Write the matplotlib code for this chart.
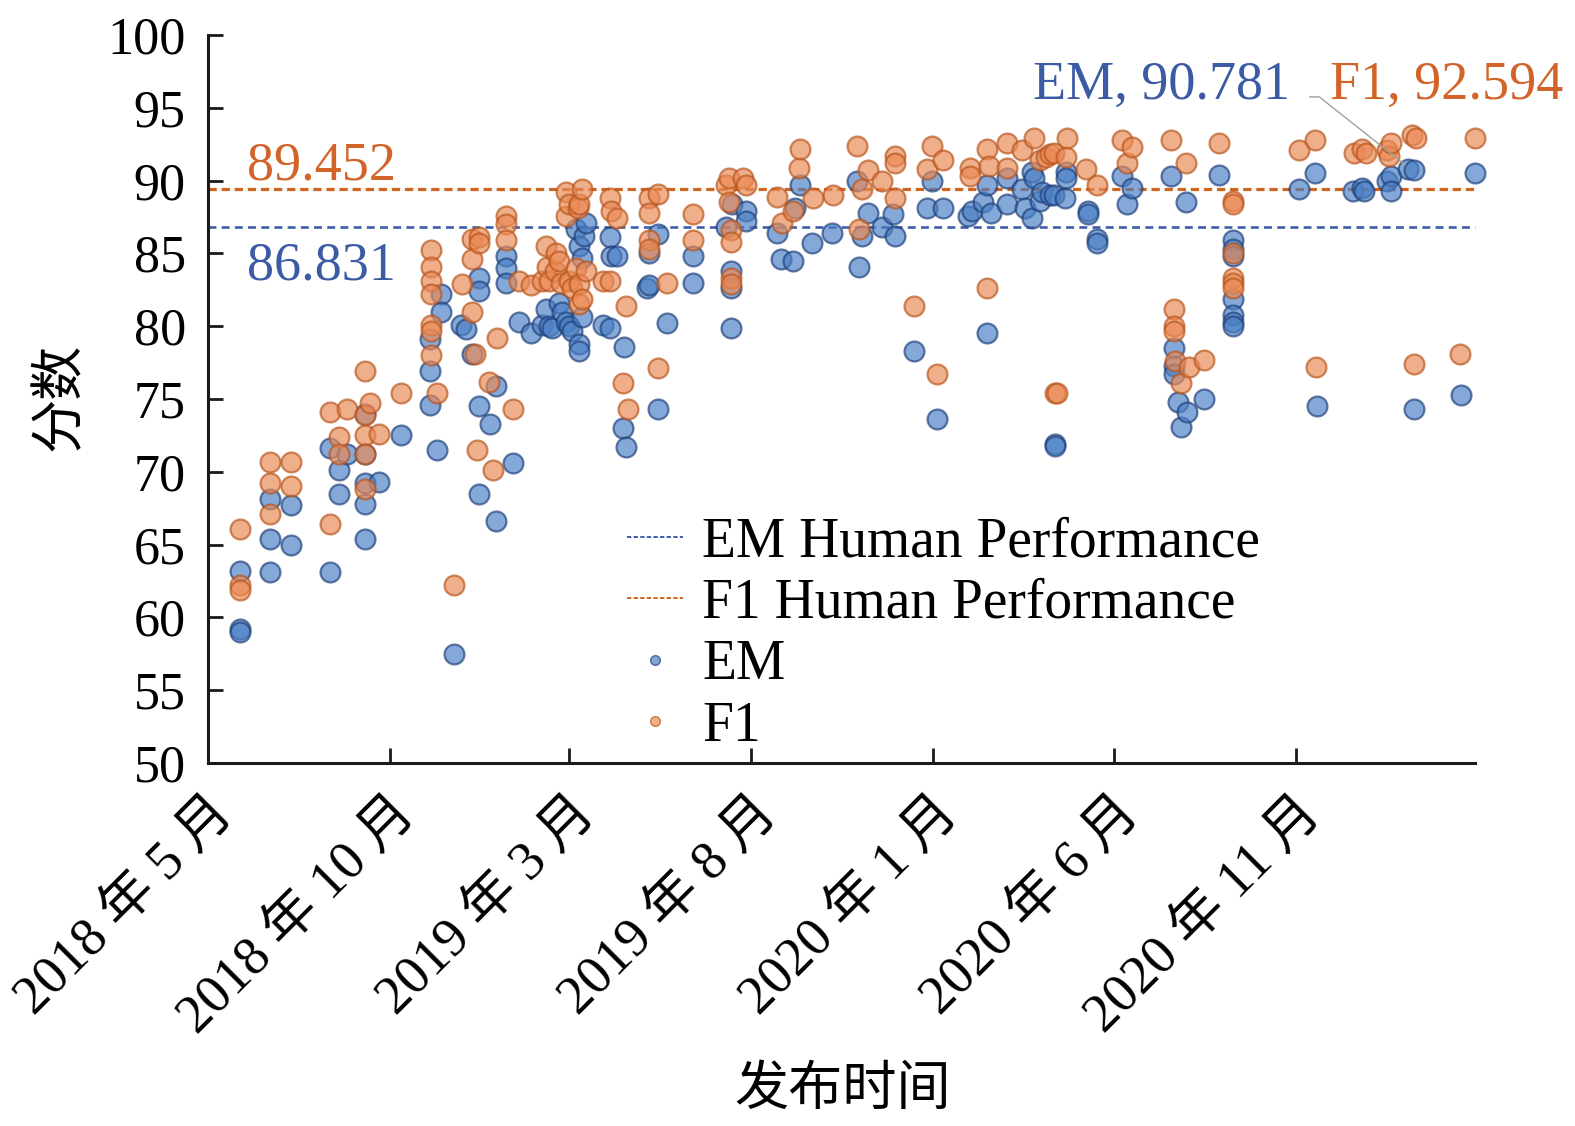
import matplotlib
matplotlib.use("Agg")
import matplotlib.pyplot as plt
from matplotlib.lines import Line2D
import pandas as pd

plt.rcParams['font.family'] = ['Liberation Serif', 'Noto Sans CJK SC']

# (release date, score)
em_points = [
    ("2018-05-28", 63.2), ("2018-05-28", 59.2), ("2018-05-28", 59.0),
    ("2018-06-22", 68.1), ("2018-06-22", 65.4), ("2018-06-22", 63.1),
    ("2018-07-10", 67.7), ("2018-07-10", 65.0),
    ("2018-08-12", 71.6), ("2018-08-12", 63.1),
    ("2018-08-19", 70.1), ("2018-08-19", 68.5), ("2018-08-26", 71.2),
    ("2018-09-10", 74.0), ("2018-09-10", 71.2), ("2018-09-10", 69.2), ("2018-09-10", 67.8), ("2018-09-10", 65.4),
    ("2018-09-22", 69.3), ("2018-10-10", 72.5),
    ("2018-11-04", 79.1), ("2018-11-04", 76.9), ("2018-11-04", 74.6),
    ("2018-11-10", 71.5), ("2018-11-13", 82.2), ("2018-11-13", 81.0), ("2018-11-24", 57.5),
    ("2018-11-30", 80.1), ("2018-12-04", 79.8), ("2018-12-09", 78.1),
    ("2018-12-15", 83.3), ("2018-12-15", 82.4), ("2018-12-15", 74.5), ("2018-12-15", 68.5),
    ("2018-12-24", 73.3), ("2018-12-29", 75.9), ("2018-12-29", 66.6),
    ("2019-01-07", 84.8), ("2019-01-07", 84.0), ("2019-01-07", 83.0),
    ("2019-01-13", 70.6), ("2019-01-18", 80.3), ("2019-01-28", 79.5),
    ("2019-02-06", 80.1), ("2019-02-09", 81.2), ("2019-02-12", 80.0), ("2019-02-14", 79.9),
    ("2019-02-20", 81.6), ("2019-02-23", 81.0), ("2019-02-26", 80.3), ("2019-03-01", 80.0), ("2019-03-03", 79.7),
    ("2019-03-07", 86.7), ("2019-03-09", 85.5), ("2019-03-09", 78.8), ("2019-03-09", 78.3),
    ("2019-03-12", 84.7), ("2019-03-12", 80.6), ("2019-03-13", 86.2), ("2019-03-15", 87.1),
    ("2019-03-29", 80.1), ("2019-04-04", 86.1), ("2019-04-04", 79.9), ("2019-04-05", 84.8), ("2019-04-10", 84.8),
    ("2019-04-15", 73.0), ("2019-04-16", 78.6), ("2019-04-18", 71.7),
    ("2019-05-05", 82.6), ("2019-05-07", 85.0), ("2019-05-07", 82.8),
    ("2019-05-15", 86.3), ("2019-05-15", 74.3), ("2019-05-22", 80.2),
    ("2019-06-13", 84.8), ("2019-06-13", 83.0),
    ("2019-07-11", 86.8), ("2019-07-15", 83.8), ("2019-07-15", 82.6), ("2019-07-15", 79.9), ("2019-07-16", 88.4),
    ("2019-07-28", 87.9), ("2019-07-28", 87.2),
    ("2019-08-23", 86.4), ("2019-08-26", 84.6), ("2019-09-05", 84.5), ("2019-09-07", 88.1), ("2019-09-11", 89.7),
    ("2019-09-21", 85.7), ("2019-10-08", 86.4),
    ("2019-10-29", 90.0), ("2019-10-31", 84.1), ("2019-11-02", 86.2), ("2019-11-07", 87.8), ("2019-11-19", 86.8),
    ("2019-11-28", 87.7), ("2019-11-30", 86.2),
    ("2019-12-16", 78.3), ("2019-12-27", 88.1), ("2019-12-31", 90.0), ("2020-01-04", 73.6), ("2020-01-09", 88.1),
    ("2020-01-30", 87.6), ("2020-02-03", 87.9), ("2020-02-12", 88.5), ("2020-02-15", 89.7), ("2020-02-15", 79.5),
    ("2020-02-19", 87.8), ("2020-03-03", 90.2), ("2020-03-03", 88.4), ("2020-03-16", 89.4), ("2020-03-18", 88.1),
    ("2020-03-24", 90.6), ("2020-03-24", 87.4), ("2020-03-26", 90.2), ("2020-03-31", 88.6), ("2020-04-02", 89.2),
    ("2020-04-08", 89.0), ("2020-04-12", 89.0), ("2020-04-13", 71.9), ("2020-04-13", 71.8), ("2020-04-21", 88.8),
    ("2020-04-22", 90.6), ("2020-04-22", 90.2), ("2020-05-10", 87.9), ("2020-05-10", 87.7),
    ("2020-05-18", 86.0), ("2020-05-18", 85.7),
    ("2020-06-08", 90.3), ("2020-06-12", 88.4), ("2020-06-16", 89.5),
    ("2020-07-19", 90.3), ("2020-07-22", 78.5), ("2020-07-22", 77.3), ("2020-07-22", 76.7), ("2020-07-25", 74.8),
    ("2020-07-28", 73.1), ("2020-08-01", 88.5), ("2020-08-02", 74.1), ("2020-08-16", 75.0),
    ("2020-08-29", 90.4),
    ("2020-09-09", 85.9), ("2020-09-09", 85.3), ("2020-09-09", 84.8), ("2020-09-09", 81.9),
    ("2020-09-09", 80.8), ("2020-09-09", 80.3), ("2020-09-09", 80.0),
    ("2020-11-04", 89.4), ("2020-11-17", 90.5), ("2020-11-19", 74.5),
    ("2020-12-19", 89.3), ("2020-12-27", 89.5), ("2020-12-29", 89.3),
    ("2021-01-17", 90.0), ("2021-01-20", 90.3), ("2021-01-20", 89.3),
    ("2021-02-04", 90.8), ("2021-02-09", 90.7), ("2021-02-09", 74.3),
    ("2021-03-20", 75.3), ("2021-04-01", 90.5),
]

f1_points = [
    ("2018-05-28", 66.1), ("2018-05-28", 62.2), ("2018-05-28", 61.9),
    ("2018-06-22", 70.7), ("2018-06-22", 69.2), ("2018-06-22", 67.1),
    ("2018-07-10", 70.7), ("2018-07-10", 69.0),
    ("2018-08-12", 74.1), ("2018-08-12", 66.4),
    ("2018-08-19", 72.4), ("2018-08-19", 71.2), ("2018-08-26", 74.3),
    ("2018-09-10", 76.9), ("2018-09-10", 73.9), ("2018-09-10", 72.5), ("2018-09-10", 71.2), ("2018-09-10", 68.8),
    ("2018-09-14", 74.7), ("2018-09-22", 72.6), ("2018-10-10", 75.4),
    ("2018-11-05", 85.2), ("2018-11-05", 84.1), ("2018-11-05", 83.1), ("2018-11-05", 82.2),
    ("2018-11-05", 80.1), ("2018-11-05", 79.7), ("2018-11-05", 78.0),
    ("2018-11-10", 75.4), ("2018-11-24", 62.2), ("2018-12-01", 82.9),
    ("2018-12-09", 86.0), ("2018-12-09", 84.6), ("2018-12-09", 81.0),
    ("2018-12-12", 78.1), ("2018-12-13", 71.5), ("2018-12-15", 86.1), ("2018-12-15", 85.7),
    ("2018-12-23", 76.2), ("2018-12-27", 70.1), ("2018-12-30", 79.2),
    ("2019-01-07", 87.6), ("2019-01-07", 87.0), ("2019-01-07", 85.9),
    ("2019-01-13", 74.3), ("2019-01-18", 83.1), ("2019-01-28", 82.8),
    ("2019-02-06", 83.1), ("2019-02-09", 85.5), ("2019-02-10", 84.1), ("2019-02-12", 83.1), ("2019-02-17", 83.8),
    ("2019-02-18", 85.0), ("2019-02-20", 84.5), ("2019-02-22", 83.0), ("2019-02-26", 89.2), ("2019-02-26", 87.6),
    ("2019-03-01", 88.4), ("2019-03-01", 83.1), ("2019-03-03", 82.6), ("2019-03-07", 84.0), ("2019-03-08", 88.1),
    ("2019-03-09", 88.4), ("2019-03-09", 82.9), ("2019-03-09", 81.5), ("2019-03-12", 89.4), ("2019-03-12", 81.9),
    ("2019-03-15", 83.8),
    ("2019-03-29", 83.1), ("2019-04-04", 88.8), ("2019-04-04", 83.1), ("2019-04-05", 87.9), ("2019-04-10", 87.4),
    ("2019-04-15", 76.1), ("2019-04-18", 81.4), ("2019-04-19", 74.3),
    ("2019-05-07", 88.8), ("2019-05-07", 87.8), ("2019-05-07", 85.9), ("2019-05-07", 85.3),
    ("2019-05-15", 89.1), ("2019-05-15", 77.1), ("2019-05-22", 83.0),
    ("2019-06-13", 87.7), ("2019-06-13", 85.9),
    ("2019-07-11", 89.7), ("2019-07-13", 90.2), ("2019-07-13", 88.5), ("2019-07-15", 86.6), ("2019-07-15", 85.8),
    ("2019-07-15", 83.3), ("2019-07-15", 82.9), ("2019-07-25", 90.2), ("2019-07-28", 89.7),
    ("2019-08-23", 88.9), ("2019-08-27", 87.1), ("2019-09-05", 87.9), ("2019-09-10", 90.9), ("2019-09-11", 92.2),
    ("2019-09-22", 88.8), ("2019-10-09", 89.0),
    ("2019-10-29", 92.4), ("2019-10-31", 86.7), ("2019-11-02", 89.4), ("2019-11-07", 90.7), ("2019-11-19", 90.0),
    ("2019-11-30", 91.7), ("2019-11-30", 91.2), ("2019-11-30", 88.8),
    ("2019-12-16", 81.4), ("2019-12-27", 90.8), ("2019-12-31", 92.4), ("2020-01-04", 76.7), ("2020-01-09", 91.4),
    ("2020-02-01", 90.9), ("2020-02-01", 90.3), ("2020-02-15", 92.2), ("2020-02-15", 82.6), ("2020-02-17", 91.0),
    ("2020-03-03", 92.6), ("2020-03-03", 90.9), ("2020-03-16", 92.1), ("2020-03-26", 92.9), ("2020-03-31", 91.4),
    ("2020-04-05", 91.6), ("2020-04-08", 91.8), ("2020-04-12", 91.9), ("2020-04-13", 75.4), ("2020-04-14", 75.4),
    ("2020-04-22", 91.6), ("2020-04-23", 92.9), ("2020-05-09", 90.8), ("2020-05-18", 89.7),
    ("2020-06-08", 92.8), ("2020-06-12", 91.2), ("2020-06-16", 92.3),
    ("2020-07-19", 92.8), ("2020-07-22", 81.2), ("2020-07-22", 80.0), ("2020-07-22", 79.7), ("2020-07-23", 77.6),
    ("2020-07-28", 76.1), ("2020-08-01", 91.2), ("2020-08-03", 77.2), ("2020-08-16", 77.7),
    ("2020-08-29", 92.6),
    ("2020-09-09", 88.6), ("2020-09-09", 88.4), ("2020-09-09", 85.0),
    ("2020-09-09", 83.3), ("2020-09-09", 83.0), ("2020-09-09", 82.6),
    ("2020-11-04", 92.1), ("2020-11-17", 92.8), ("2020-11-18", 77.2),
    ("2020-12-20", 91.9), ("2020-12-27", 92.2), ("2020-12-30", 91.9),
    ("2021-01-17", 92.1), ("2021-01-19", 91.7), ("2021-01-20", 92.6),
    ("2021-02-07", 93.1), ("2021-02-09", 77.4), ("2021-02-10", 92.9),
    ("2021-03-19", 78.1), ("2021-04-01", 92.9),
]

em_human = 86.831
f1_human = 89.452
em_best = ("2021-02-01", 91.1)   # point the EM label's leader line goes to

tick_dates = ["2018-05-01", "2018-10-01", "2019-03-01", "2019-08-01",
              "2020-01-01", "2020-06-01", "2020-11-01"]
tick_labels = ["2018 年 5 月", "2018 年 10 月", "2019 年 3 月", "2019 年 8 月",
               "2020 年 1 月", "2020 年 6 月", "2020 年 11 月"]

blue_face, blue_edge, blue_line = '#4a7fc4', '#1f3f7a', '#3d5ea8'
orange_face, orange_edge, orange_line = '#ea8a55', '#b8541a', '#d0651f'

em = pd.DataFrame(em_points, columns=['date', 'score'])
em['date'] = pd.to_datetime(em['date'])
f1 = pd.DataFrame(f1_points, columns=['date', 'score'])
f1['date'] = pd.to_datetime(f1['date'])

fig = plt.figure(figsize=(15.75, 11.26), dpi=100)
ax = fig.add_axes([0.1321, 0.3224, 0.8044, 0.6465])

x0, x1 = pd.Timestamp("2018-05-01"), pd.Timestamp("2021-04-01")
ax.plot([x0, x1], [f1_human, f1_human], color=orange_line, lw=2.3, dashes=(2.6, 1.5), zorder=2, clip_on=False)
ax.plot([x0, x1], [em_human, em_human], color=blue_line, lw=1.9, dashes=(3.0, 2.0), zorder=2, clip_on=False)

ax.scatter(em['date'], em['score'], s=205, facecolor=blue_face, edgecolor=blue_edge,
           linewidths=1.6, alpha=0.68, zorder=3, clip_on=False)
ax.scatter(f1['date'], f1['score'], s=205, facecolor=orange_face, edgecolor=orange_edge,
           linewidths=1.6, alpha=0.68, zorder=3, clip_on=False)

# labels for the human lines and the best scores
ax.text(pd.Timestamp("2018-06-03"), 91.0, f"{f1_human:.3f}", color='#d2642a', fontsize=39, va='center', ha='left')
ax.text(pd.Timestamp("2018-06-03"), 84.15, f"{em_human:.3f}", color='#3b5ba5', fontsize=39, va='center', ha='left')
ax.text(pd.Timestamp("2020-03-25"), 96.55, "EM, 90.781", color='#3b5ba5', fontsize=39, va='center', ha='left')
ax.text(pd.Timestamp("2020-11-30"), 96.55, "F1, 92.594", color='#d2642a', fontsize=39, va='center', ha='left',
        clip_on=False)
ax.plot([pd.Timestamp("2020-11-13"), pd.Timestamp("2020-11-21"), pd.Timestamp(em_best[0])],
        [95.75, 95.75, em_best[1]], color='#a0a0a0', lw=1.0, zorder=4, clip_on=False)

ax.set_xlim(x0, x1)
ax.set_ylim(50, 100)
ax.set_yticks(range(50, 101, 5))
ax.set_xticks(pd.to_datetime(tick_dates))
ax.set_xticklabels(tick_labels, rotation=45, ha='right', va='top', rotation_mode='anchor')

ax.tick_params(axis='both', direction='in', length=11, width=2.0, color='#1a1a1a')
ax.tick_params(axis='y', pad=16, labelsize=37.5)
ax.tick_params(axis='x', pad=18, labelsize=39)
for side in ['top', 'right']:
    ax.spines[side].set_visible(False)
for side in ['left', 'bottom']:
    ax.spines[side].set_linewidth(2.2)
    ax.spines[side].set_color('#1a1a1a')

ax.set_ylabel("分数", fontsize=39)
ax.yaxis.set_label_coords(-0.0955, 0.503)
ax.set_xlabel("发布时间", fontsize=39)
ax.xaxis.set_label_coords(0.501, -0.4175)

handles = [
    Line2D([], [], color=blue_line, lw=1.4, dashes=(2.2, 1.2)),
    Line2D([], [], color=orange_line, lw=1.4, dashes=(2.2, 1.2)),
    Line2D([], [], ls='', marker='o', markersize=7, mfc=blue_face, mec=blue_edge, mew=1.0, alpha=0.7),
    Line2D([], [], ls='', marker='o', markersize=7, mfc=orange_face, mec=orange_edge, mew=1.0, alpha=0.7),
]
ax.legend(handles, ["EM Human Performance", "F1 Human Performance", "EM", "F1"],
          loc='upper left', bbox_to_anchor=(0.331, 0.339), frameon=False, fontsize=40,
          handlelength=1.0, handletextpad=0.35, labelspacing=0.17, borderpad=0, borderaxespad=0)

fig.savefig("out.png", dpi=100)
